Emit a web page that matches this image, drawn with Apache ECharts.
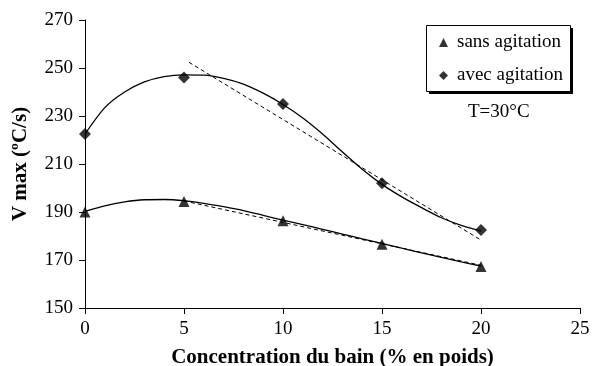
<!DOCTYPE html>
<html><head><meta charset="utf-8">
<script src="https://cdn.jsdelivr.net/npm/echarts@6/dist/echarts.min.js"></script>
<style>html,body{margin:0;padding:0;background:#fff}#c{width:593px;height:366px}</style>
</head><body><div id="c"></div>
<script>
const concentrations = [0, 5, 10, 15, 20];
const sansAgitation = [190, 194.4, 186.4, 176.6, 167.3];
const avecAgitation = [222.5, 246, 235, 202, 182.5];
// trend curves (x, y)
const sansCurveX = [0, 1, 2, 3, 4, 5, 6, 7, 8, 9, 10, 11, 12, 13, 14, 15, 16, 17, 18, 19, 20];
const sansCurveY = [190.3, 192.6, 194.2, 195.1, 195.2, 194.7, 193.6, 192.2, 190.6, 188.6, 186.6, 184.7, 182.8, 180.8, 178.8, 176.9, 174.9, 173.0, 171.1, 169.2, 167.5];
const avecCurveX = [0, 1, 2, 3, 4, 5, 6, 7, 8, 9, 10, 11, 12, 13, 14, 15, 16, 17, 18, 19, 20];
const avecCurveY = [222.5, 233.5, 240.0, 244.2, 246.4, 247.1, 247.0, 245.7, 243.3, 239.5, 234.8, 229.2, 222.5, 215.0, 207.8, 201.5, 196.3, 191.8, 187.6, 184.4, 182.0];
const sansLinX = [5, 20];
const sansLinY = [194.6, 167.8];
const avecLinX = [5.25, 20];
const avecLinY = [252.4, 178.3];
const xTicks = [0, 5, 10, 15, 20, 25];
const yTicks = [150, 170, 190, 210, 230, 250, 270];

const zip = (a, b) => a.map((v, i) => [v, b[i]]);
const font = 'Liberation Serif';
const chart = echarts.init(document.getElementById('c'));
chart.setOption({
  animation: false,
  textStyle: { fontFamily: font, color: '#000' },
  grid: { left: 85, right: 13, top: 20, bottom: 58, containLabel: false, outerBoundsMode: 'none' },
  xAxis: {
    type: 'value', min: xTicks[0], max: xTicks[xTicks.length - 1], interval: 5,
    name: 'Concentration du bain (% en poids)', nameLocation: 'middle', nameGap: 39,
    nameTextStyle: { fontFamily: font, fontWeight: 'bold', fontSize: 21, color: '#000' },
    axisLine: { lineStyle: { color: '#000', width: 1 } },
    axisTick: { show: true, length: 6, lineStyle: { color: '#000' } },
    axisLabel: { fontFamily: font, fontSize: 19, color: '#000', margin: 12 },
    splitLine: { show: false }
  },
  yAxis: {
    type: 'value', min: yTicks[0], max: yTicks[yTicks.length - 1], interval: 20,
    name: 'V max (ºC/s)', nameLocation: 'middle', nameGap: 54, nameRotate: 90,
    nameTextStyle: { fontFamily: font, fontWeight: 'bold', fontSize: 21, color: '#000' },
    axisLine: { show: true, lineStyle: { color: '#000', width: 1 } },
    axisTick: { show: true, length: 6, lineStyle: { color: '#000' } },
    axisLabel: { fontFamily: font, fontSize: 19, color: '#000', margin: 12 },
    splitLine: { show: false }
  },
  legend: {
    orient: 'vertical', left: 439, top: 33, z: 20,
    data: [{ name: 'sans agitation', icon: 'triangle' }, { name: 'avec agitation', icon: 'diamond' }],
    itemWidth: 9, itemHeight: 9, itemGap: 14,
    padding: 0,
    textStyle: { fontFamily: font, fontSize: 19, color: '#000', padding: [0, 0, 0, 4] }
  },
  graphic: [
    { type: 'rect', left: 429, top: 28, z: 10, shape: { width: 144, height: 66 }, style: { fill: '#000' } },
    { type: 'rect', left: 426, top: 25, z: 11, shape: { width: 144, height: 66 }, style: { fill: '#fff', stroke: '#000', lineWidth: 1 } },
    { type: 'text', left: 468, top: 103, z: 12, style: { text: 'T=30°C', font: '19px "Liberation Serif"', fill: '#000' } }
  ],
  series: [
    { name: 'sansCurve', type: 'line', data: zip(sansCurveX, sansCurveY), smooth: 0.25, showSymbol: false, lineStyle: { color: '#000', width: 1.3 }, z: 2, silent: true },
    { name: 'avecCurve', type: 'line', data: zip(avecCurveX, avecCurveY), smooth: 0.25, showSymbol: false, lineStyle: { color: '#000', width: 1.3 }, z: 2, silent: true },
    { name: 'sansLin', type: 'line', data: zip(sansLinX, sansLinY), showSymbol: false, lineStyle: { color: '#000', width: 1, type: [4, 3] }, z: 2, silent: true },
    { name: 'avecLin', type: 'line', data: zip(avecLinX, avecLinY), showSymbol: false, lineStyle: { color: '#000', width: 1, type: [4, 3] }, z: 2, silent: true },
    { name: 'sans agitation', type: 'scatter', data: zip(concentrations, sansAgitation), symbol: 'triangle', symbolSize: 11, itemStyle: { color: '#000' }, z: 5 },
    { name: 'avec agitation', type: 'scatter', data: zip(concentrations, avecAgitation), symbol: 'diamond', symbolSize: 12, itemStyle: { color: '#000' }, z: 5 }
  ]
});
</script></body></html>
